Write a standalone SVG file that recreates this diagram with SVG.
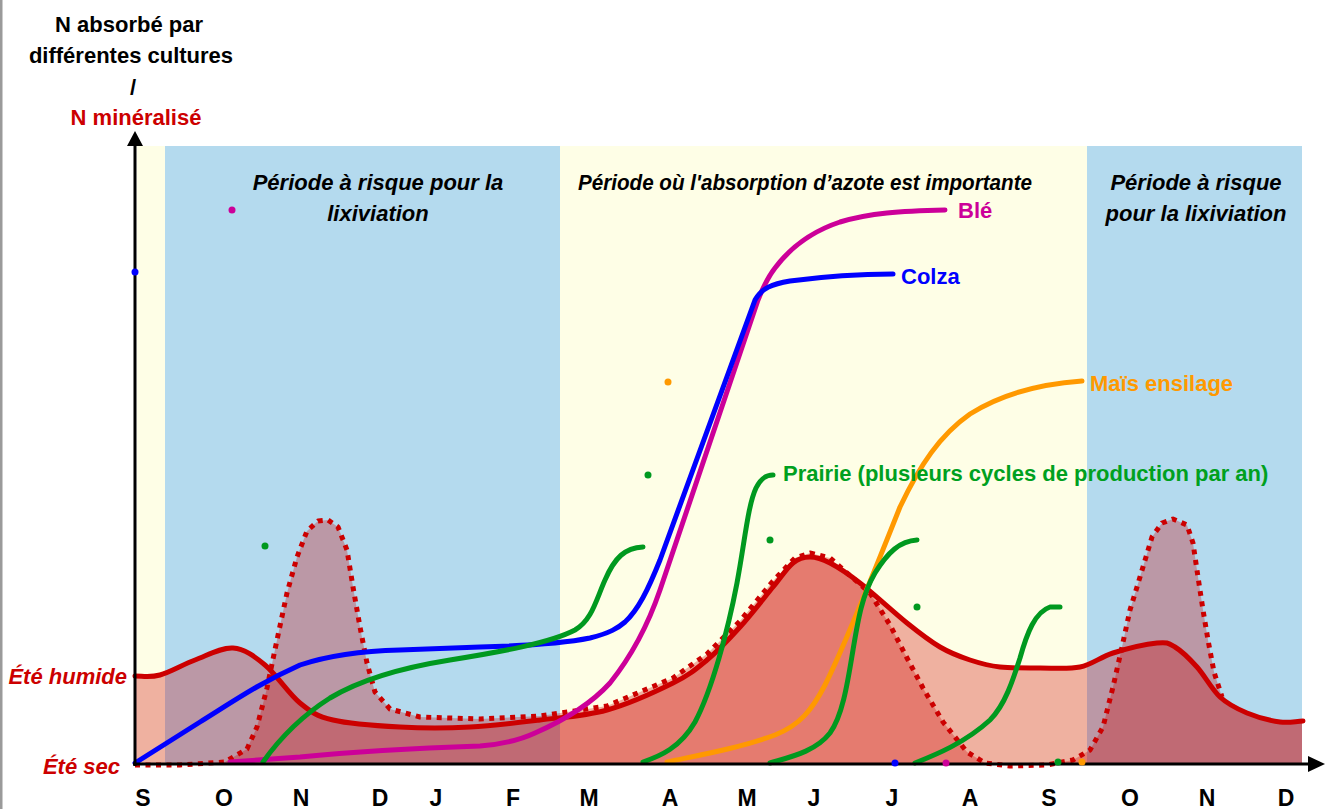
<svg xmlns="http://www.w3.org/2000/svg" width="1332" height="809" viewBox="0 0 1332 809">
<style>
text{font-family:"Liberation Sans",Arial,sans-serif;font-weight:bold;font-size:22px}
.it{font-style:italic}
.mo{font-size:23px;text-anchor:middle;fill:#000}
.red{fill:#cc0000}
.crv{fill:none;stroke-width:5;stroke-linecap:round;stroke-linejoin:round}
.area{fill:#cc0000;fill-opacity:0.3;stroke:none}
</style>
<rect x="0" y="0" width="1332" height="809" fill="#ffffff"/>
<rect x="0" y="0" width="2.5" height="809" fill="#9a9a9a"/>
<g id="bands">
<rect x="137" y="146" width="28" height="619" fill="#fefee6"/>
<rect x="165" y="146" width="395" height="619" fill="#b4daee"/>
<rect x="560" y="146" width="527" height="619" fill="#fefee6"/>
<rect x="1087" y="146" width="215" height="619" fill="#b4daee"/>
</g>
<g id="areas">
<path id="area-humide" class="area" d="M135,676 C143,676 150,677.7 160,675 S182.8,664.5 195,660 S221.3,647.2 233,648 S253.8,655.8 265,665 S288.7,693.8 300,703 S316.3,716 333,720 S377.2,725.8 400,727 S446.7,728.2 470,727 S517.2,722.8 540,720 S584.8,716.2 607,710 S656.3,691.3 673,683 S695.8,669.3 707,660 S729,639.2 740,627 S764.2,597.7 773,587 S786.8,568 793,563 S803.8,557 810,557 S821.7,558.7 830,563 S847.2,573 860,583 S893.7,612.3 907,623 S929.5,640.8 940,647 S960,656.7 970,660 S988.3,665.7 1000,667 S1026.7,668 1040,668 S1067.8,669.5 1080,667 S1100.2,657 1113,653 S1146.7,644 1157,643 S1168.3,643 1175,647 S1189.5,658.7 1197,667 S1211.7,689.3 1220,697 S1237,708.8 1247,713 S1270.7,720.7 1280,722 S1295.3,721.3 1302,721 L1302,765 L135,765 Z"/>
<path id="area-sec" class="area" d="M135,765 L180,765 L225,762 L247,749 L257,727 L267,688 L277,640 L287,593 L297,557 L307,531 L318,521 L328,520 L338,527 L347,550 L353,587 L360,627 L367,663 L375,692 L390,709 L420,717 L480,719 L540,716 L607,706 L673,678 L707,654 L740,621 L773,581 L795,558 L810,553 L830,558 L870,593 L890,625 L907,658 L923,688 L943,722 L967,752 L985,763 L1010,766 L1047,765 L1073,760 L1090,750 L1103,727 L1113,687 L1122,647 L1130,610 L1140,577 L1152,537 L1162,523 L1173,519 L1187,525 L1193,543 L1198,577 L1203,610 L1208,640 L1214,672 L1222,697 L1247,713 L1280,722 L1302,721 L1302,765 Z"/>
</g>
<g id="mineralisation">
<path id="ete-sec" fill="none" stroke="#cc0000" stroke-width="5" stroke-dasharray="5 5.5" stroke-linejoin="round" d="M135,765 L180,765 L225,762 L247,749 L257,727 L267,688 L277,640 L287,593 L297,557 L307,531 L318,521 L328,520 L338,527 L347,550 L353,587 L360,627 L367,663 L375,692 L390,709 L420,717 L480,719 L540,716 L607,706 L673,678 L707,654 L740,621 L773,581 L795,558 L810,553 L830,558 L870,593 L890,625 L907,658 L923,688 L943,722 L967,752 L985,763 L1010,766 L1047,765 L1073,760 L1090,750 L1103,727 L1113,687 L1122,647 L1130,610 L1140,577 L1152,537 L1162,523 L1173,519 L1187,525 L1193,543 L1198,577 L1203,610 L1208,640 L1214,672 L1222,697"/>
<path id="ete-humide" class="crv" stroke="#cc0000" d="M135,676 C143,676 150,677.7 160,675 S182.8,664.5 195,660 S221.3,647.2 233,648 S253.8,655.8 265,665 S288.7,693.8 300,703 S316.3,716 333,720 S377.2,725.8 400,727 S446.7,728.2 470,727 S517.2,722.8 540,720 S584.8,716.2 607,710 S656.3,691.3 673,683 S695.8,669.3 707,660 S729,639.2 740,627 S764.2,597.7 773,587 S786.8,568 793,563 S803.8,557 810,557 S821.7,558.7 830,563 S847.2,573 860,583 S893.7,612.3 907,623 S929.5,640.8 940,647 S960,656.7 970,660 S988.3,665.7 1000,667 S1026.7,668 1040,668 S1067.8,669.5 1080,667 S1100.2,657 1113,653 S1146.7,644 1157,643 S1168.3,643 1175,647 S1189.5,658.7 1197,667 S1211.7,689.3 1220,697 S1237,708.8 1247,713 S1270.7,720.7 1280,722 S1295.3,721.3 1303,721"/>
</g>
<g id="cultures">
<path id="ble" class="crv" stroke="#cc0099" d="M230,762 L300,757 C350,752 420,748 480,746 C505,744 520,740 535,733 C560,722 590,705 610,683 C630,658 648,625 660,590 L758,300 C764,285 768,277 775,268 C790,248 810,232 840,222 C870,213 900,211 945,210"/>
<path id="colza" class="crv" stroke="#0000ff" d="M135,763 L200,722 C240,697 260,683 300,665 C330,655 360,651 400,650 L480,647 C520,646 560,644 590,638 C610,633 618,628 625,622 C638,610 648,590 660,560 L755,300 C762,288 772,284 790,281 C820,277 860,274 893,274"/>
<path id="mais" class="crv" stroke="#ff9900" d="M667,762 C700,755 740,748 775,735 C800,725 812,710 825,685 C845,645 875,570 900,507 C920,465 940,435 970,414 C1000,395 1040,384 1082,381"/>
<g id="prairie" class="crv" stroke="#00991f">
<path d="M263,762 C280,738 300,717 330,698 C360,680 400,668 450,660 C500,652 550,643 575,630 C592,620 596,600 605,580 C615,557 625,548 643,547"/>
<path d="M643,762 C660,756 680,748 695,722 C712,690 728,630 737,583 C745,540 748,505 756,488 C761,478 766,475 773,475"/>
<path d="M770,763 C790,757 815,752 830,733 C843,715 848,680 853,650 C858,620 862,595 875,573 C888,552 900,541 917,540"/>
<path d="M915,763 C935,755 965,743 990,720 C1005,705 1013,680 1020,658 C1027,633 1035,612 1050,607 L1060,607"/>
</g>
</g>
<g id="axes" stroke="#000" stroke-width="3">
<line x1="135" y1="766" x2="135" y2="142"/>
<line x1="133" y1="764" x2="1312" y2="764"/>
<polygon points="135,131 127,146 143,146" fill="#000" stroke="none"/>
<polygon points="1325,764 1308,756 1308,772" fill="#000" stroke="none"/>
</g>
<g id="dots">
<circle cx="135" cy="272" r="3.5" fill="#0000ff"/>
<circle cx="232" cy="210" r="3.5" fill="#cc0099"/>
<circle cx="265" cy="546" r="3.5" fill="#00991f"/>
<circle cx="668" cy="382" r="3.5" fill="#ff9900"/>
<circle cx="648" cy="475" r="3.5" fill="#00991f"/>
<circle cx="770" cy="540" r="3.5" fill="#00991f"/>
<circle cx="917" cy="607" r="3.5" fill="#00991f"/>
<circle cx="895" cy="763" r="3.5" fill="#0000ff"/>
<circle cx="946" cy="763" r="3.5" fill="#cc0099"/>
<circle cx="1058" cy="762" r="3.5" fill="#00991f"/>
<circle cx="1082" cy="762" r="3.5" fill="#ff9900"/>
</g>
<g id="titre">
<text x="129" y="32" text-anchor="middle">N absorbé par</text>
<text x="131" y="63" text-anchor="middle">différentes cultures</text>
<text x="133" y="95" text-anchor="middle">/</text>
<text x="136" y="125" text-anchor="middle" class="red">N minéralisé</text>
</g>
<g id="periodes">
<text class="it" x="378" y="190" text-anchor="middle">Période à risque pour la</text>
<text class="it" x="378" y="221" text-anchor="middle">lixiviation</text>
<text class="it" x="578" y="190" textLength="454" lengthAdjust="spacingAndGlyphs">Période où l'absorption d’azote est importante</text>
<text class="it" x="1196" y="190" text-anchor="middle">Période à risque</text>
<text class="it" x="1196" y="221" text-anchor="middle">pour la lixiviation</text>
</g>
<g id="labels">
<text x="958" y="218" fill="#cc0099">Blé</text>
<text x="901" y="284" fill="#0000ff">Colza</text>
<text x="1090" y="391" fill="#ff9900">Maïs ensilage</text>
<text x="783" y="481" fill="#00a020">Prairie (plusieurs cycles de production par an)</text>
<text class="it red" x="127" y="684" text-anchor="end">Été humide</text>
<text class="it red" x="120" y="774" text-anchor="end">Été sec</text>
</g>
<g id="mois">
<text class="mo" x="143" y="806">S</text>
<text class="mo" x="224" y="806">O</text>
<text class="mo" x="301" y="806">N</text>
<text class="mo" x="380" y="806">D</text>
<text class="mo" x="436" y="806">J</text>
<text class="mo" x="513" y="806">F</text>
<text class="mo" x="589" y="806">M</text>
<text class="mo" x="670" y="806">A</text>
<text class="mo" x="747" y="806">M</text>
<text class="mo" x="814" y="806">J</text>
<text class="mo" x="892" y="806">J</text>
<text class="mo" x="970" y="806">A</text>
<text class="mo" x="1049" y="806">S</text>
<text class="mo" x="1130" y="806">O</text>
<text class="mo" x="1207" y="806">N</text>
<text class="mo" x="1286" y="806">D</text>
</g>
</svg>
